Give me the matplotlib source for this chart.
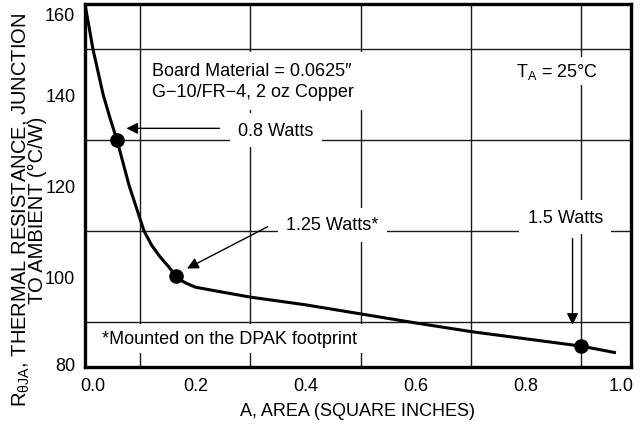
import matplotlib
matplotlib.use("Agg")
import matplotlib.pyplot as plt
import numpy as np

plt.rcParams['font.family'] = ['Liberation Sans', 'DejaVu Sans']
plt.rcParams['mathtext.fontset'] = 'custom'
plt.rcParams['mathtext.rm'] = 'Liberation Sans'

# curve
area = [0.0, 0.0145, 0.033, 0.045, 0.058, 0.069, 0.080, 0.087, 0.107, 0.121,
        0.136, 0.151, 0.165, 0.174, 0.183, 0.2, 0.24, 0.3, 0.4, 0.5, 0.6,
        0.7, 0.8, 0.9, 0.96]
rtheta = [160, 150, 140, 135, 130, 125, 120, 117.4, 110, 106.8,
          104.3, 102.2, 100, 99.1, 98.5, 97.6, 96.7, 95.4, 93.7, 91.7, 89.7,
          87.8, 86.2, 84.6, 83.2]

# marked operating points
pt_area = [0.058, 0.165, 0.9]
pt_r = [130, 100, 84.6]
pt_labels = ['0.8 Watts', '1.25 Watts*', '1.5 Watts']

xtick_labels = ['0.0', '0.2', '0.4', '0.6', '0.8', '1.0']
ytick_labels = ['80', '100', '120', '140', '160']

fig = plt.figure(figsize=(6.43, 4.27), dpi=100)
ax = fig.add_axes([85 / 643, 1 - 368 / 427, 546 / 643, 363 / 427])

ax.plot(area, rtheta, color='black', lw=2.2, zorder=3)
ax.plot(pt_area, pt_r, 'o', color='black', ms=9.5, zorder=4)

ax.set_xlim(0, 0.99)
ax.set_ylim(80, 160)

# grid
ax.set_xticks(np.arange(0.1, 0.95, 0.1), minor=True)
ax.set_yticks(np.arange(80, 161, 10), minor=True)
ax.grid(which='minor', color='#1a1a1a', lw=1.0, zorder=1)
ax.tick_params(which='both', length=0)

ax.set_xticks([0.015, 0.2, 0.4, 0.6, 0.8, 0.972])
ax.set_xticklabels(xtick_labels)
ax.set_yticks([80.8, 100, 120, 140, 158])
ax.set_yticklabels(ytick_labels)
ax.tick_params(labelsize=13, pad=7)

for s in ax.spines.values():
    s.set_linewidth(2.4)

ax.set_xlabel('A, AREA (SQUARE INCHES)', fontsize=13, labelpad=6)
fig.text(29 / 643, 1 - 210 / 427,
         'R$_{\\rm θJA}$, THERMAL RESISTANCE, JUNCTION\nTO AMBIENT (°C/W)',
         rotation=90, ha='center', va='center', fontsize=14.5, linespacing=0.72,
         multialignment='center')

ax.text(0.121, 143.0, 'Board Material = 0.0625″\nG−10/FR−4, 2 oz Copper',
        fontsize=13, ha='left', va='center', linespacing=1.3, zorder=5,
        bbox=dict(facecolor='white', edgecolor='none', pad=7))
ax.text(0.856, 145.2, 'T$_{\\rm A}$ = 25°C', fontsize=13, ha='center', va='center',
        bbox=dict(facecolor='white', edgecolor='none', pad=3), zorder=5)
ax.text(0.031, 86.3, '*Mounted on the DPAK footprint', fontsize=13, ha='left',
        va='center', bbox=dict(facecolor='white', edgecolor='none', pad=4), zorder=5)

arrow = dict(arrowstyle='-|>', mutation_scale=17, lw=1.0, color='black',
             shrinkA=0, shrinkB=0)

# labels for the points, with arrows
ax.text(0.346, 132.2, pt_labels[0], fontsize=13, ha='center', va='center',
        bbox=dict(facecolor='white', edgecolor='none', pad=6), zorder=5)
ax.annotate('', xy=(pt_area[0] + 0.017, 132.6), xytext=(0.244, 132.6),
            arrowprops=arrow, zorder=5)

ax.text(0.449, 111.3, pt_labels[1], fontsize=13, ha='center', va='center',
        bbox=dict(facecolor='white', edgecolor='none', pad=6), zorder=5)
ax.annotate('', xy=(pt_area[1] + 0.02, pt_r[1] + 1.7), xytext=(0.331, 110.9),
            arrowprops=arrow, zorder=5)

ax.text(0.871, 113.0, pt_labels[2], fontsize=13, ha='center', va='center',
        bbox=dict(facecolor='white', edgecolor='none', pad=6), zorder=5)
ax.annotate('', xy=(0.884, pt_r[2] + 4.7), xytext=(0.884, 108.3),
            arrowprops=arrow, zorder=5)

fig.savefig('out.png', dpi=100)
